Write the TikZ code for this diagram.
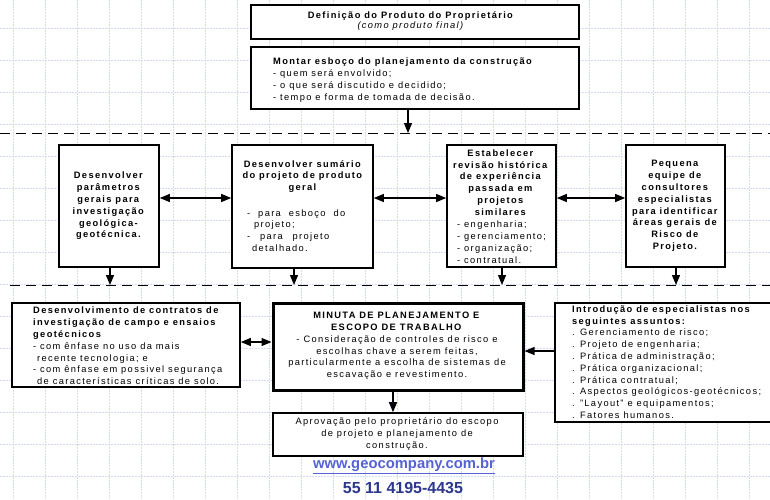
\documentclass[tikz,border=0pt]{standalone}
\usepackage{fontspec}
\setmainfont{Liberation Sans}[LetterSpace=14.5]
\newfontfamily\urlfont{Liberation Sans}
\usetikzlibrary{arrows.meta}
\definecolor{gridblue}{RGB}{210,219,247}
\definecolor{urlblue}{RGB}{84,98,212}
\definecolor{phoneblue}{RGB}{44,54,140}
\tikzset{
  box/.style={draw=black, line width=1.6pt, fill=white, inner sep=0pt},
  thickbox/.style={box, line width=3pt},
  txt/.style={font=\fontsize{9.3}{11.8}\selectfont, inner sep=0pt, align=center},
  ltxt/.style={txt, align=left},
  arr/.style={line width=1.2pt, -{Triangle[length=10pt,width=8pt]}},
  darr/.style={line width=1.2pt, {Triangle[length=10pt,width=8pt]}-{Triangle[length=10pt,width=8pt]}},
  sepline/.style={line width=0.9pt, dash pattern=on 10pt off 6pt},
  gridline/.style={gridblue, line width=0.8pt, dash pattern=on 2pt off 1pt},
}
\begin{document}
\begin{tikzpicture}[x=1pt,y=-1pt]
\useasboundingbox (0,0) rectangle (770,499);
% background grid
\foreach \gx in {13,45,...,770} \draw[gridline] (\gx,0) -- (\gx,499);
\foreach \gy in {28,60,...,499} \draw[gridline] (0,\gy) -- (770,\gy);
% separators
\coordinate (s1l) at (0,133);   \coordinate (s1r) at (770,133);
\coordinate (s2l) at (10,285);  \coordinate (s2r) at (770,285);
\draw[sepline] (s1l) -- (s1r);
\draw[sepline] (s2l) -- (s2r);
% top boxes
\node[box, minimum width=328pt, minimum height=34pt] (def) at (415,22) {};
\node[txt, font=\fontsize{9.3}{9.8}\selectfont] (deft) at (411,21) {\textbf{Definição do Produto do Proprietário}\\\textit{(como produto final)}};
\node[box, minimum width=328pt, minimum height=62pt] (mont) at (415,78) {};
\node[ltxt, anchor=west] (montt) at (273,80) {\textbf{Montar esboço do planejamento da construção}\\- quem será envolvido;\\- o que será discutido e decidido;\\- tempo e forma de tomada de decisão.};
% second row
\node[box, minimum width=100pt, minimum height=122pt] (a) at (109,206) {};
\node[txt] (at) at (109,206) {\textbf{Desenvolver}\\\textbf{parâmetros}\\\textbf{gerais para}\\\textbf{investigação}\\\textbf{geológica-}\\\textbf{geotécnica.}};
\node[box, minimum width=141pt, minimum height=123pt] (b) at (302.5,206.5) {};
\node[txt] (bt1) at (303,176.5) {\textbf{Desenvolver sumário}\\\textbf{do projeto de produto}\\\textbf{geral}};
\node[ltxt, anchor=west] (bt2) at (247,230.5) {\makebox[98pt][s]{- para esboço do}\\\hspace*{7pt}projeto;\\\makebox[82pt][s]{- para projeto}\\\hspace*{5pt}detalhado.};
\node[box, minimum width=109pt, minimum height=122pt] (c) at (501.5,206) {};
\node[txt] (ct1) at (501,182.5) {\textbf{Estabelecer}\\\textbf{revisão histórica}\\\textbf{de experiência}\\\textbf{passada em}\\\textbf{projetos}\\\textbf{similares}};
\node[ltxt, anchor=west] (ct2) at (457,242) {- engenharia;\\- gerenciamento;\\- organização;\\- contratual.};
\node[box, minimum width=99pt, minimum height=122pt] (d) at (675.5,206) {};
\node[txt] (dt) at (675.5,206) {\textbf{Pequena}\\\textbf{equipe de}\\\textbf{consultores}\\\textbf{especialistas}\\\textbf{para identificar}\\\textbf{áreas gerais de}\\\textbf{Risco de}\\\textbf{Projeto.}};
% third row
\node[box, minimum width=228pt, minimum height=84pt] (e) at (126,345) {};
\node[ltxt, anchor=west] (et) at (33,346) {\textbf{Desenvolvimento de contratos de}\\\textbf{investigação de campo e ensaios}\\\textbf{geotécnicos}\\- com ênfase no uso da mais\\\hspace*{4pt}recente tecnologia; e\\- com ênfase em possivel segurança\\\hspace*{4pt}de características críticas de solo.};
\node[thickbox, minimum width=250pt, minimum height=87pt] (f) at (398,346.5) {};
\node[txt] (ft) at (397,346) {\textbf{MINUTA DE PLANEJAMENTO E}\\\textbf{ESCOPO DE TRABALHO}\\- Consideração de controles de risco e\\escolhas chave a serem feitas,\\particularmente a escolha de sistemas de\\escavação e revestimento.};
\node[box, minimum width=218pt, minimum height=119pt] (g) at (664,362.5) {};
\node[ltxt, anchor=west] (gt) at (572,362) {\textbf{Introdução de especialistas nos}\\\textbf{seguintes assuntos:}\\. Gerenciamento de risco;\\. Projeto de engenharia;\\. Prática de administração;\\. Prática organizacional;\\. Prática contratual;\\. Aspectos geológicos-geotécnicos;\\. "Layout" e equipamentos;\\. Fatores humanos.};
\node[box, minimum width=250pt, minimum height=43pt] (h) at (398,434.5) {};
\node[txt] (ht) at (397,434) {Aprovação pelo proprietário do escopo\\de projeto e planejamento de\\construção.};
% footer
\node[inner sep=0pt, text=urlblue, font=\urlfont\fontsize{14.8}{16}\selectfont\bfseries] (url) at (404,466) {\underline{www.geocompany.com.br}};
\node[inner sep=0pt, text=phoneblue, font=\urlfont\fontsize{16}{18}\selectfont\bfseries] (phone) at (403,488) {55 11 4195-4435};
% vertical arrows
\coordinate (x1) at (408,133);
\draw[arr] (mont.south -| x1) -- (x1);
\coordinate (x2) at (110,285);
\draw[arr] (a.south -| x2) -- (x2);
\coordinate (x3) at (294,285);
\draw[arr] (b.south -| x3) -- (x3);
\coordinate (x4) at (502,285);
\draw[arr] (c.south -| x4) -- (x4);
\coordinate (x5) at (676,285);
\draw[arr] (d.south -| x5) -- (x5);
\coordinate (x6) at (393,0);
\draw[arr] (f.south -| x6) -- (h.north -| x6);
% horizontal arrows
\coordinate (y1) at (0,198);
\draw[darr] (a.east |- y1) -- (b.west |- y1);
\draw[darr] (b.east |- y1) -- (c.west |- y1);
\draw[darr] (c.east |- y1) -- (d.west |- y1);
\coordinate (y2) at (0,342);
\draw[darr] (e.east |- y2) -- (f.west |- y2);
\coordinate (y3) at (0,351);
\draw[arr] (g.west |- y3) -- (f.east |- y3);
\end{tikzpicture}
\end{document}
